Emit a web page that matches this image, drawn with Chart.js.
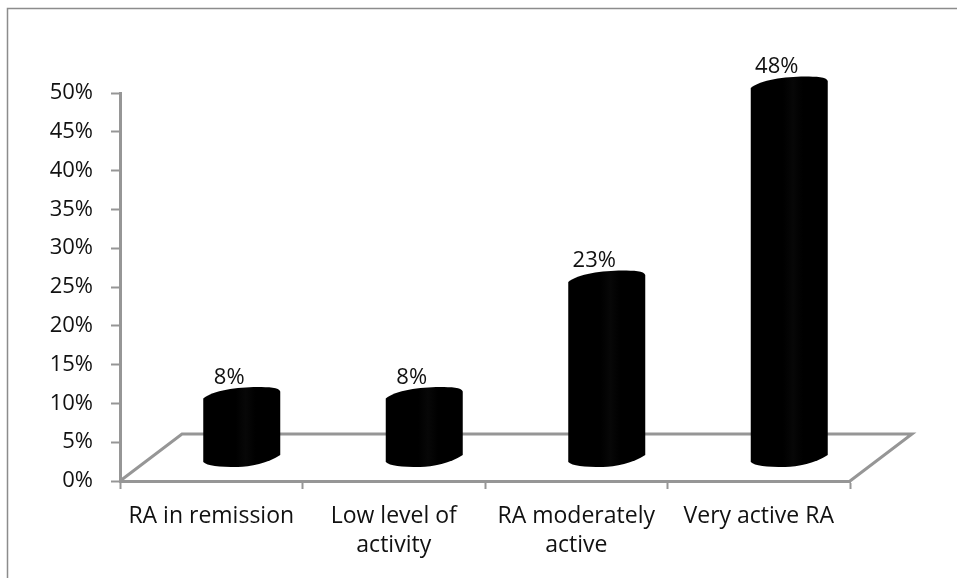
<!DOCTYPE html>
<html>
<head>
<meta charset="utf-8">
<style>
html,body{margin:0;padding:0;background:#fff;}
#wrap{width:957px;height:578px;position:relative;}
</style>
<script src="https://cdn.jsdelivr.net/npm/chart.js@4/dist/chart.umd.min.js"></script>
</head>
<body>
<div id="wrap"><canvas id="c" width="957" height="578"></canvas></div>
<script>
const categories = ["RA in remission", ["Low level of", "activity"], ["RA moderately", "active"], "Very active RA"];
const percentValues = [8, 8, 23, 48];
const yTickMax = 50;
const yTickStep = 5;

const DEPTH_X = 62, DEPTH_Y = 47;
const BAR_SHIFT_X = 30.5, BAR_LIFT = 22.5;
const GREY = '#969696';
const FONT = '"Open Sans", sans-serif';
const FONT_SIZE = 22;
const X_FONT_SIZE = 23;

class CylinderBar extends Chart.BarElement {
  static id = 'cylinderBar';
  draw(ctx) {
    const {x, y, base, width} = this.getProps(['x', 'y', 'base', 'width']);
    const cx = x + BAR_SHIFT_X, top = y - BAR_LIFT, bot = base - BAR_LIFT;
    const L = cx - width / 2, R = cx + width / 2, w = width;
    const g = ctx.createLinearGradient(L, 0, R, 0);
    g.addColorStop(0, '#000');
    g.addColorStop(0.42, '#000');
    g.addColorStop(0.55, '#070707');
    g.addColorStop(0.68, '#000');
    g.addColorStop(1, '#000');
    ctx.save();
    ctx.beginPath();
    ctx.moveTo(L, top + 2);
    ctx.bezierCurveTo(L + 0.12 * w, top - 6, L + 0.45 * w, top - 9.5, L + 0.7 * w, top - 9.5);
    ctx.bezierCurveTo(L + 0.85 * w, top - 9.5, R - 1, top - 9, R, top - 5);
    ctx.lineTo(R, bot - 3);
    ctx.bezierCurveTo(R - 0.15 * w, bot + 5, R - 0.4 * w, bot + 9, L + 0.45 * w, bot + 9);
    ctx.bezierCurveTo(L + 0.2 * w, bot + 9, L + 0.05 * w, bot + 8, L, bot + 4);
    ctx.closePath();
    ctx.fillStyle = g;
    ctx.fill();
    ctx.restore();
  }
}
class CylinderController extends Chart.BarController {
  static id = 'cylinder';
  static defaults = {...Chart.BarController.defaults, dataElementType: 'cylinderBar'};
  static overrides = Chart.BarController.overrides;
}
Chart.register(CylinderBar, CylinderController);

const framePlugin = {
  id: 'frame',
  beforeDraw(chart) {
    const ctx = chart.ctx;
    ctx.save();
    ctx.strokeStyle = '#8c8c8c';
    ctx.lineWidth = 1.5;
    ctx.beginPath();
    ctx.moveTo(7.5, 578);
    ctx.lineTo(7.5, 8.5);
    ctx.lineTo(957, 8.5);
    ctx.stroke();
    ctx.restore();
  },
  beforeDatasetsDraw(chart) {
    const ctx = chart.ctx, xs = chart.scales.x, ys = chart.scales.y;
    const y0 = ys.getPixelForValue(0), l = xs.left, r = xs.right;
    ctx.save();
    ctx.strokeStyle = GREY;
    ctx.lineWidth = 3;
    ctx.lineJoin = 'miter';
    ctx.beginPath();
    ctx.moveTo(l, y0);
    ctx.lineTo(l + DEPTH_X, y0 - DEPTH_Y);
    ctx.lineTo(r + DEPTH_X, y0 - DEPTH_Y);
    ctx.lineTo(r, y0);
    ctx.stroke();
    ctx.restore();
  },
  afterDatasetsDraw(chart) {
    const ctx = chart.ctx;
    const meta = chart.getDatasetMeta(0);
    ctx.save();
    ctx.fillStyle = '#111';
    ctx.font = FONT_SIZE + 'px ' + FONT;
    ctx.textAlign = 'center';
    ctx.textBaseline = 'middle';
    meta.data.forEach((el, i) => {
      ctx.fillText(percentValues[i] + '%', el.x + 18, el.y - BAR_LIFT - 19);
    });
    ctx.restore();
  }
};

new Chart(document.getElementById('c'), {
  type: 'cylinder',
  data: {
    labels: categories,
    datasets: [{
      data: percentValues,
      backgroundColor: '#000',
      categoryPercentage: 77 / 182.5,
      barPercentage: 1,
      clip: false
    }]
  },
  options: {
    responsive: false,
    animation: false,
    layout: {padding: {left: 0, top: 93, right: 107, bottom: 0}},
    plugins: {legend: {display: false}, tooltip: {enabled: false}},
    scales: {
      x: {
        type: 'category',
        offset: true,
        afterFit(s) { s.height = 97; },
        grid: {display: true, offset: true, drawOnChartArea: false, drawTicks: true, tickLength: 8, tickWidth: 2, tickColor: GREY},
        border: {display: true, color: GREY, width: 3},
        ticks: {color: '#111', font: {family: FONT, size: X_FONT_SIZE, lineHeight: 1.26}, padding: 13, maxRotation: 0, autoSkip: false}
      },
      y: {
        min: 0,
        max: yTickMax,
        afterFit(s) { s.width = 120; },
        grid: {display: true, drawOnChartArea: false, drawTicks: true, tickLength: 9, tickWidth: 2, tickColor: GREY},
        border: {display: true, color: GREY, width: 3},
        ticks: {stepSize: yTickStep, color: '#111', font: {family: FONT, size: FONT_SIZE}, padding: 18, callback: v => v + '%'}
      }
    }
  },
  plugins: [framePlugin]
});
</script>
</body>
</html>
